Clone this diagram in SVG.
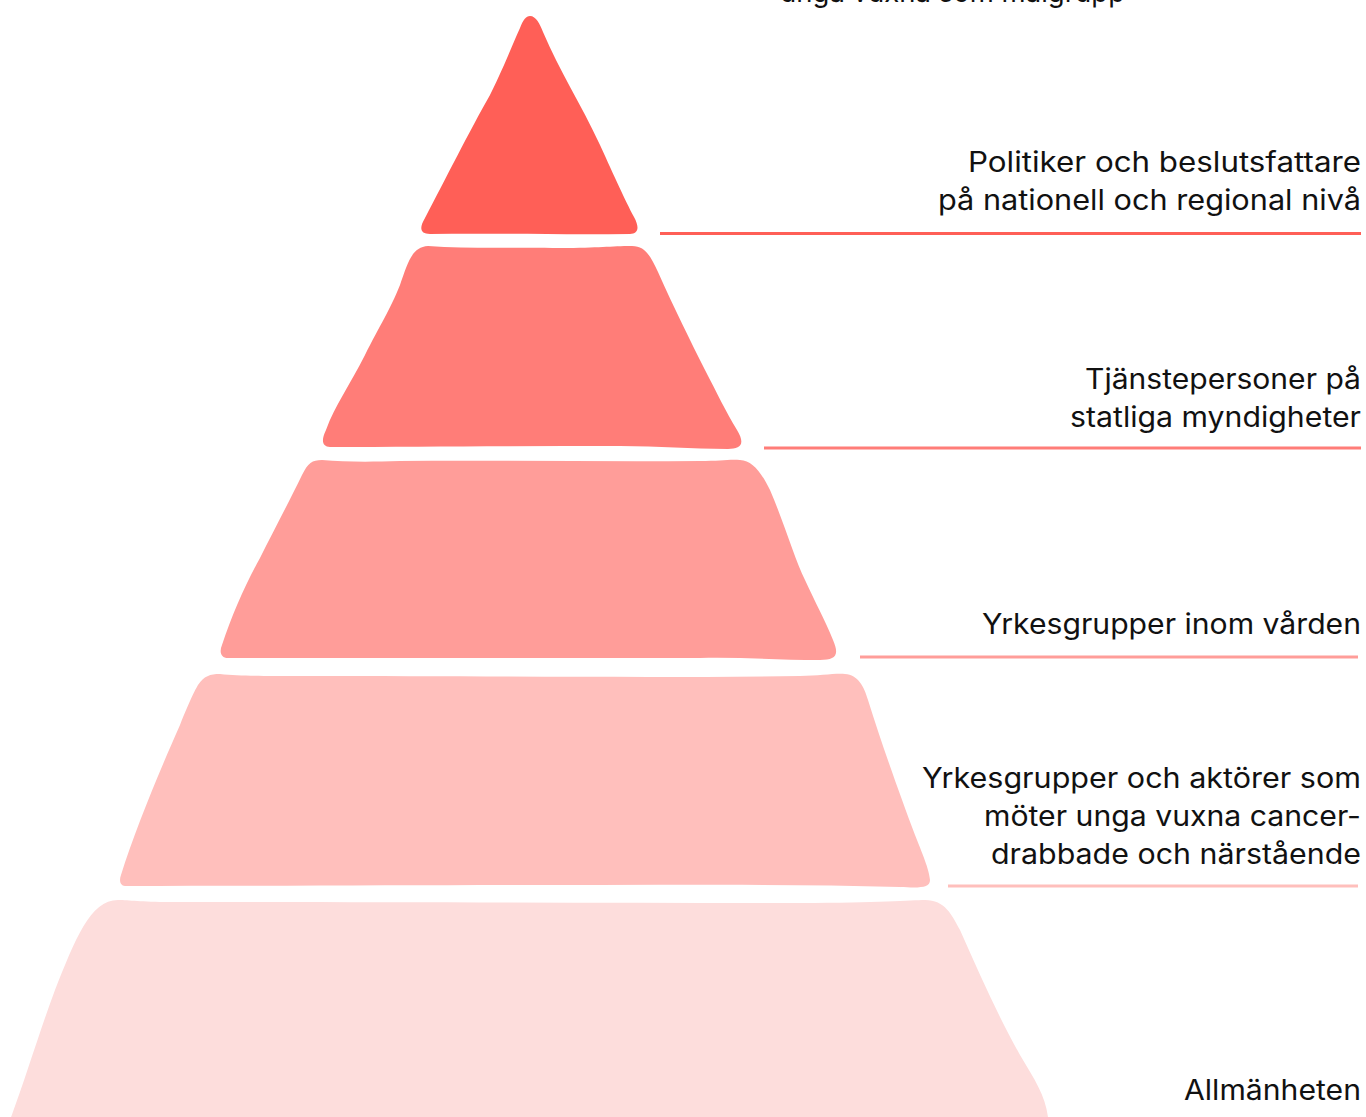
<svg xmlns="http://www.w3.org/2000/svg" width="1366" height="1117" viewBox="0 0 1366 1117">
  <style>
    .lbl { font-family: Inter, "Liberation Sans", Arial, sans-serif; font-size: 28px; fill: #111111; text-anchor: end; }
    .top { text-anchor: start; }
    .t1 { fill: #ff5f57; }
    .t2 { fill: #ff7d78; }
    .t3 { fill: #ff9d99; }
    .t4 { fill: #ffbfbc; }
    .t5 { fill: #fddddc; }
    .rule { fill: none; stroke-width: 3; }
  </style>
  <rect width="1366" height="1117" fill="#ffffff"/>

  <!-- heading, cut off by the top edge -->
  <text class="lbl top" x="780" y="2" textLength="345" lengthAdjust="spacingAndGlyphs">unga vuxna som målgrupp</text>

  <!-- tier 1: apex -->
  <g id="tier-politiker">
    <path class="t1" d="M530 16 C536 16 540 24 543 32 C560 72 580 102 600 145 C615 178 625 200 634 217 C640 228 638 234 630 234 C560 235 500 233 430 234 C420 234 419 228 425 218 C445 180 470 130 490 95 C505 65 510 50 520 28 C523 20 526 16 530 16 Z"/>
    <text class="lbl" x="1361" y="172" textLength="393" lengthAdjust="spacingAndGlyphs">Politiker och beslutsfattare</text>
    <text class="lbl" x="1361" y="210" textLength="423" lengthAdjust="spacingAndGlyphs">på nationell och regional nivå</text>
  </g>

  <!-- tier 2 -->
  <g id="tier-tjanstepersoner">
    <path class="t2" d="M428 246 C470 249 520 247 560 248 C600 248 610 246 632 246 C645 246 650 255 658 272 C675 310 690 340 705 370 C718 395 725 410 737 430 C746 445 740 449 728 449 C690 449 660 446 620 446 C520 446 420 447 330 447 C322 447 321 440 326 430 C335 405 350 385 365 355 C380 325 390 310 400 285 C408 262 412 247 428 246 Z"/>
    <text class="lbl" x="1361" y="389" textLength="276" lengthAdjust="spacingAndGlyphs">Tjänstepersoner på</text>
    <text class="lbl" x="1361" y="427" textLength="291" lengthAdjust="spacingAndGlyphs">statliga myndigheter</text>
  </g>

  <!-- tier 3 -->
  <g id="tier-varden">
    <path class="t3" d="M322 460 C345 462 370 462 400 461 C500 460 600 462 700 461 C720 461 730 459 740 460 C752 461 760 470 770 490 C785 525 795 560 805 580 C815 602 825 620 833 640 C840 656 835 660 820 660 C780 660 740 657 700 658 C560 658 400 658 228 658 C221 658 219 652 222 645 C232 615 245 585 260 558 C275 528 290 500 302 475 C308 463 312 460 322 460 Z"/>
    <text class="lbl" x="1361" y="634" textLength="379" lengthAdjust="spacingAndGlyphs">Yrkesgrupper inom vården</text>
  </g>

  <!-- tier 4 -->
  <g id="tier-aktorer">
    <path class="t4" d="M220 674 C240 676 260 676 300 676 C500 676 650 678 800 676 C820 676 835 673 845 674 C858 675 864 686 868 700 C882 745 900 795 915 835 C925 860 929 870 930 880 C930 888 920 888 900 887 C800 884 700 885 600 885 C450 885 300 886 125 886 C120 886 119 880 121 875 C135 830 160 770 180 725 C190 700 195 690 198 685 C204 676 210 674 220 674 Z"/>
    <text class="lbl" x="1361" y="788" textLength="439" lengthAdjust="spacingAndGlyphs">Yrkesgrupper och aktörer som</text>
    <text class="lbl" x="1361" y="826" textLength="377" lengthAdjust="spacingAndGlyphs">möter unga vuxna cancer-</text>
    <text class="lbl" x="1361" y="864" textLength="370" lengthAdjust="spacingAndGlyphs">drabbade och närstående</text>
  </g>

  <!-- tier 5: base, runs off the bottom edge -->
  <g id="tier-allmanheten">
    <path class="t5" d="M118 900 C130 900 140 902 170 902 C400 902 600 903 800 903 C880 903 910 900 925 900 C945 900 952 915 960 930 C980 975 1000 1020 1020 1055 C1035 1080 1045 1095 1048 1117 L1048 1120 L10 1120 C25 1080 40 1030 55 990 C75 940 90 900 118 900 Z"/>
    <text class="lbl" x="1361" y="1100" textLength="177" lengthAdjust="spacingAndGlyphs">Allmänheten</text>
  </g>

  <!-- rules under each label -->
  <g id="connectors">
    <line class="rule" x1="660" y1="233.5" x2="1361" y2="233.5" stroke="#ff5f57"/>
    <line class="rule" x1="764" y1="448" x2="1361" y2="448" stroke="#ff7d78"/>
    <line class="rule" x1="860" y1="657" x2="1358" y2="657" stroke="#ff9d99"/>
    <line class="rule" x1="948" y1="886" x2="1358" y2="886" stroke="#ffbfbc"/>
  </g>
</svg>
